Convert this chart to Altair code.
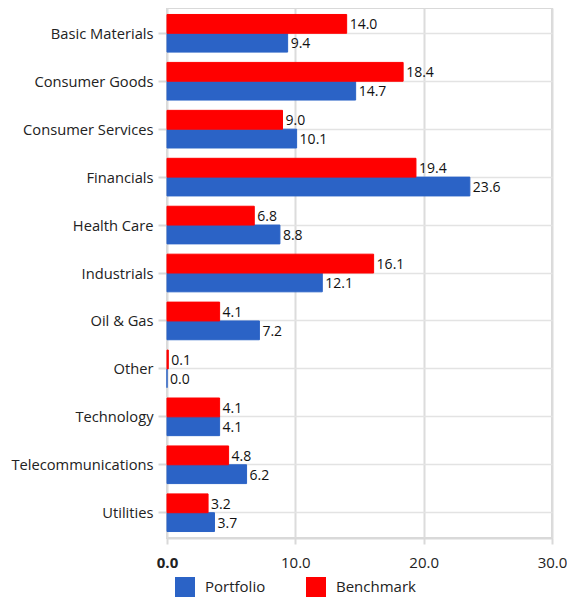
import altair as alt
import pandas as pd

sectors = ["Basic Materials", "Consumer Goods", "Consumer Services", "Financials",
           "Health Care", "Industrials", "Oil & Gas", "Other", "Technology",
           "Telecommunications", "Utilities"]
portfolio = [9.4, 14.7, 10.1, 23.6, 8.8, 12.1, 7.2, 0.0, 4.1, 6.2, 3.7]
benchmark = [14.0, 18.4, 9.0, 19.4, 6.8, 16.1, 4.1, 0.1, 4.1, 4.8, 3.2]
series = ["Portfolio", "Benchmark"]
colors = ["#2B63C6", "#FF0000"]
x_ticks = [0, 10, 20, 30]

rows = []
for s, p, b in zip(sectors, portfolio, benchmark):
    rows.append({"sector": s, "series": "Portfolio", "value": p})
    rows.append({"sector": s, "series": "Benchmark", "value": b})
df = pd.DataFrame(rows)

FONT = "Open Sans"

y_enc = alt.Y("sector:N", sort=sectors, title=None,
              scale=alt.Scale(paddingInner=0.215, paddingOuter=0.135),
              axis=alt.Axis(labelFontSize=14.7, labelColor="#222222", labelFont=FONT,
                            tickSize=9, tickColor="#d9d9d9", tickWidth=2,
                            labelPadding=5, labelOffset=1.5, domain=False, grid=True,
                            gridColor="#e3e3e3", gridWidth=1.5))
yoff = alt.YOffset("series:N", sort=["Benchmark", "Portfolio"])
x_enc = alt.X("value:Q", title=None,
              scale=alt.Scale(domain=[0, 30], nice=False),
              axis=alt.Axis(values=x_ticks, format=".1f", labelFontSize=15,
                            labelColor="#222222", labelFont=FONT, labelFlush=False,
                            labelFontWeight=alt.condition("datum.value == 0", alt.value("bold"), alt.value("normal")),
                            tickSize=6, tickColor="#d9d9d9", tickWidth=2,
                            labelPadding=11, domain=True, domainColor="#d9d9d9",
                            domainWidth=2, grid=True, gridColor="#dcdcdc", gridWidth=2))

color = alt.Color("series:N", sort=series,
                  scale=alt.Scale(domain=series, range=colors),
                  legend=alt.Legend(title=None, orient="none", legendX=8, legendY=569,
                                    direction="horizontal", symbolType="square",
                                    symbolSize=400, symbolStrokeWidth=0,
                                    labelFontSize=15, labelFont=FONT, labelColor="#222222",
                                    labelOffset=10, columnPadding=40))

bars = alt.Chart(df).mark_bar(strokeWidth=1).encode(
    y=y_enc, yOffset=yoff, x=x_enc, color=color,
    stroke=alt.Stroke("series:N", scale=alt.Scale(domain=series, range=colors), legend=None)
)
labels = alt.Chart(df).mark_text(align="left", baseline="middle", dx=3, dy=1.5,
                                 fontSize=14, font=FONT, color="#111111").encode(
    y=alt.Y("sector:N", sort=sectors), yOffset=yoff, x="value:Q",
    text=alt.Text("value:Q", format=".1f")
)

chart = alt.layer(bars, labels).properties(
    width=385, height=530,
    autosize=alt.AutoSizeParams(type="none"),
    padding={"left": 159, "top": 0, "right": 15, "bottom": 59},
).configure_view(stroke="#d9d9d9", strokeWidth=2)

chart.save("out.html", embed_options={"renderer": "svg", "actions": False})
